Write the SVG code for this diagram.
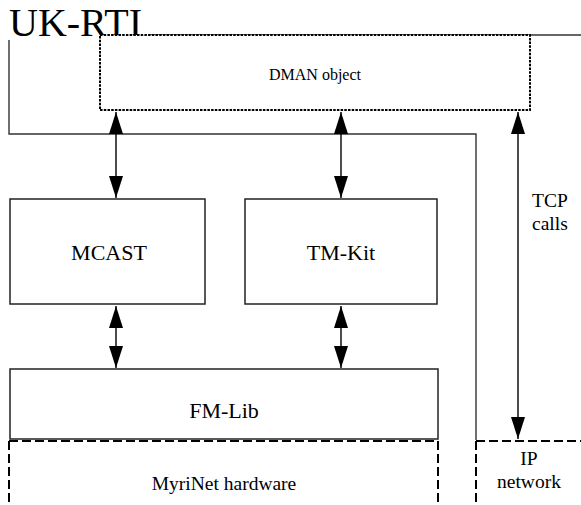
<svg xmlns="http://www.w3.org/2000/svg" width="581" height="505" viewBox="0 0 581 505" font-family="'Liberation Serif', 'Times New Roman', Times, serif">
<defs>
<style>
text{font-family:'Liberation Serif', 'Times New Roman', Times, serif;fill:#000}
.box{fill:none;stroke:#222;stroke-width:1.5}
.frame{fill:none;stroke:#333;stroke-width:1.4}
.dot{fill:#fff;stroke:#000;stroke-width:2;stroke-dasharray:2.5 1.2}
.dash{fill:none;stroke:#000;stroke-width:2;stroke-dasharray:9 4}
.conn{stroke:#000;stroke-width:1.4;fill:none;marker-start:url(#ah);marker-end:url(#ah)}
</style>
<marker id="ah" markerUnits="userSpaceOnUse" markerWidth="22" markerHeight="14" refX="22" refY="7" orient="auto-start-reverse">
<path d="M0,0 L22,7 L0,14 z" fill="#000"/>
</marker>
</defs>
<g id="frame">
<text x="9" y="36" font-size="40">UK-RTI</text>
<path class="frame" d="M9,40 V134 H476 V440"/>
<path class="frame" d="M148,35 H581"/>
</g>
<g id="dman">
<rect class="dot" x="100" y="35" width="430" height="75"/>
<text x="315" y="80" font-size="16" text-anchor="middle">DMAN object</text>
</g>
<g id="mcast">
<rect class="box" x="10" y="199" width="195" height="105"/>
<text x="109" y="260" font-size="22" text-anchor="middle">MCAST</text>
</g>
<g id="tmkit">
<rect class="box" x="245" y="199" width="192" height="105"/>
<text x="341" y="260" font-size="22" text-anchor="middle">TM-Kit</text>
</g>
<g id="fmlib">
<rect class="box" x="10" y="369" width="428" height="70"/>
<text x="224" y="418" font-size="22" text-anchor="middle">FM-Lib</text>
</g>
<g id="myrinet">
<path class="dash" d="M9,441 H438 M9,441 V505 M438,441 V505"/>
<text x="224" y="490" font-size="19.5" text-anchor="middle">MyriNet hardware</text>
</g>
<g id="ipnet">
<path class="dash" d="M476,441 H581 M476,441 V505"/>
<text x="529" y="465" font-size="19.5" text-anchor="middle">IP</text>
<text x="529" y="488" font-size="19.5" text-anchor="middle">network</text>
</g>
<g id="tcp-label">
<text x="532" y="207" font-size="19.5">TCP</text>
<text x="532" y="230" font-size="19.5">calls</text>
</g>
<g id="connectors">
<line class="conn" x1="116" y1="112" x2="116" y2="198"/>
<line class="conn" x1="341" y1="112" x2="341" y2="198"/>
<line class="conn" x1="116" y1="306" x2="116" y2="368"/>
<line class="conn" x1="341" y1="306" x2="341" y2="368"/>
<line class="conn" x1="518" y1="112" x2="518" y2="439"/>
</g>
</svg>
